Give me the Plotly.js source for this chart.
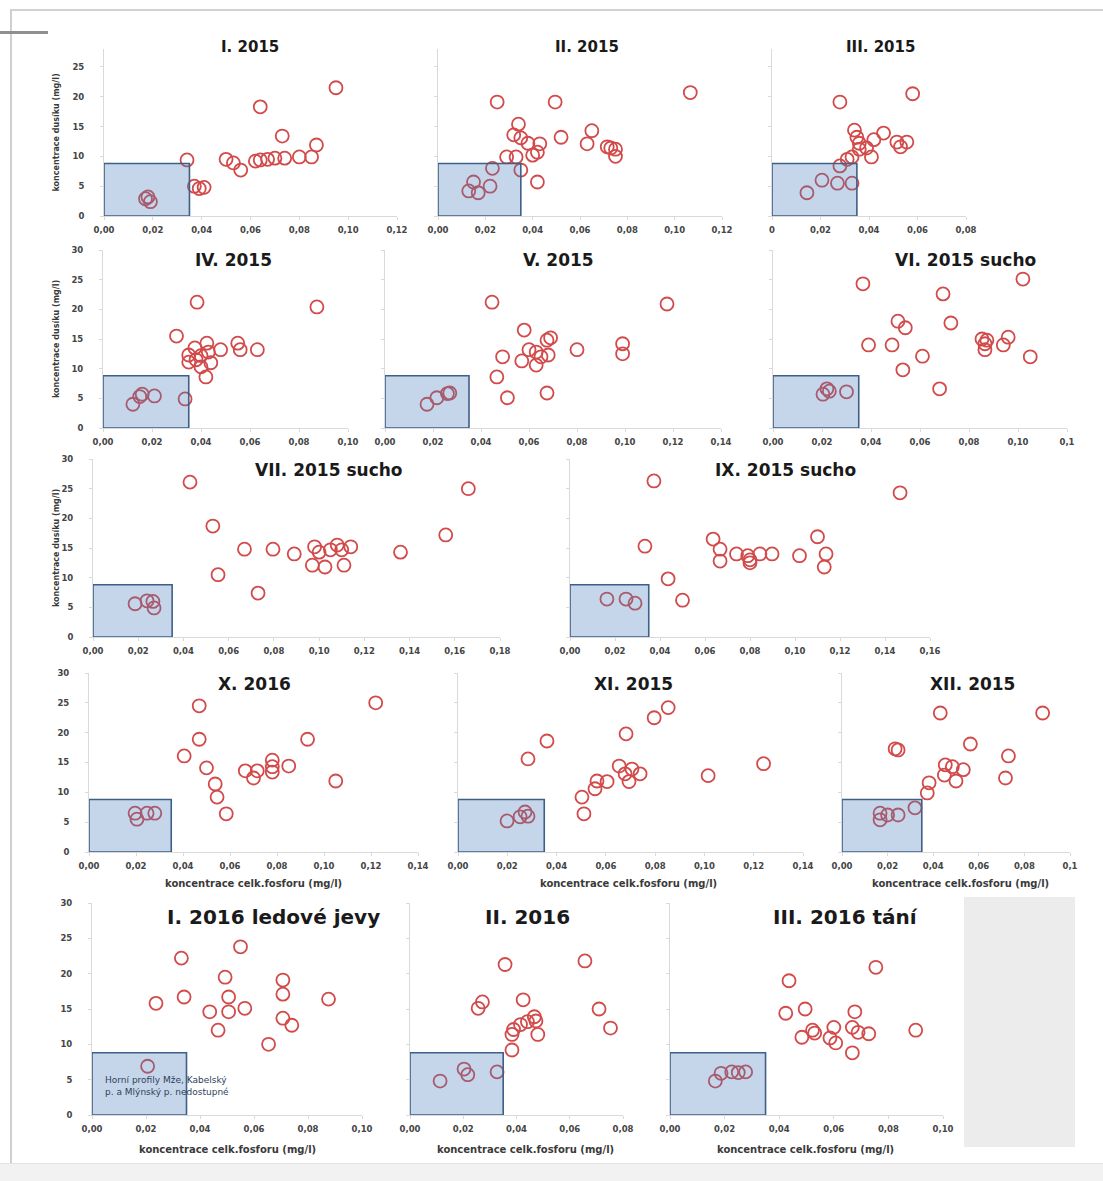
<!DOCTYPE html>
<html><head><meta charset="utf-8">
<script src="https://cdn.plot.ly/plotly-3.0.1.min.js"></script>
<style>
html,body{margin:0;padding:0;background:#fff;width:1103px;height:1181px;overflow:hidden;position:relative;}
#frameTop{position:absolute;left:10px;top:9px;width:1093px;height:2px;background:#d2d2d2;}
#frameLeft{position:absolute;left:10px;top:9px;width:2px;height:1155px;background:#cfcfcf;}
#tab{position:absolute;left:0;top:31px;width:48px;height:3px;background:#8f8f8f;}
#bottom{position:absolute;left:0;top:1163px;width:1103px;height:18px;background:#f2f2f2;border-top:1px solid #e2e2e2;}
#chart{position:absolute;left:0;top:30px;width:1103px;height:1130px;}
</style></head>
<body>
<div id="frameTop"></div><div id="frameLeft"></div><div id="tab"></div><div id="bottom"></div>
<div id="chart"></div>
<script>
// ---------------- data (x: koncentrace celk. fosforu mg/l, y: koncentrace mg/l) ----------------
const titles = ["I. 2015","II. 2015","III. 2015","IV. 2015","V. 2015","VI. 2015 sucho",
  "VII. 2015 sucho","IX. 2015 sucho","X. 2016","XI. 2015","XII. 2015",
  "I. 2016 ledové jevy","II. 2016","III. 2016 tání"];

const x_I15 = [0.017,0.019,0.018,0.037,0.039,0.041,0.034,0.050,0.053,0.056,0.062,0.064,0.067,0.070,0.074,0.080,0.085,0.087,0.073,0.064,0.095];
const y_I15 = [2.9,2.4,3.2,5.0,4.6,4.8,9.4,9.5,8.9,7.7,9.2,9.4,9.5,9.7,9.7,9.9,9.9,11.9,13.4,18.3,21.5];

const x_II15 = [0.025,0.0495,0.1066,0.034,0.032,0.035,0.038,0.043,0.052,0.065,0.063,0.0715,0.073,0.075,0.075,0.029,0.033,0.040,0.042,0.023,0.035,0.042,0.015,0.013,0.017,0.022];
const y_II15 = [19.1,19.1,20.7,15.4,13.6,13.1,12.2,12.1,13.2,14.3,12.1,11.6,11.4,11.2,10.0,9.9,9.9,10.2,10.7,8.0,7.7,5.7,5.7,4.2,3.9,5.0];

const x_III15 = [0.028,0.058,0.034,0.035,0.046,0.0515,0.0556,0.053,0.036,0.039,0.036,0.041,0.033,0.031,0.028,0.0206,0.027,0.033,0.0144,0.042];
const y_III15 = [19.1,20.5,14.4,13.2,13.9,12.4,12.4,11.6,12.2,11.4,11.2,9.9,9.9,9.5,8.4,6.0,5.5,5.5,3.9,12.8];

const x_IV15 = [0.0384,0.0873,0.030,0.0424,0.055,0.056,0.063,0.048,0.043,0.0375,0.035,0.035,0.038,0.040,0.044,0.042,0.040,0.016,0.021,0.0122,0.0335,0.015];
const y_IV15 = [21.2,20.4,15.5,14.3,14.3,13.2,13.2,13.2,12.8,13.5,12.3,11.1,11.5,10.3,11.0,8.6,12.2,5.7,5.4,4.0,4.9,5.3];

const x_V15 = [0.0446,0.1175,0.058,0.0675,0.069,0.060,0.063,0.068,0.065,0.080,0.099,0.099,0.049,0.057,0.063,0.0466,0.051,0.0675,0.027,0.0216,0.0175,0.026];
const y_V15 = [21.2,20.9,16.5,14.8,15.2,13.2,12.8,12.3,12.0,13.2,14.2,12.5,12.0,11.3,10.6,8.6,5.1,5.9,5.9,5.1,4.0,5.8];

const x_VI15 = [0.0367,0.102,0.0694,0.051,0.054,0.0726,0.039,0.0486,0.061,0.053,0.105,0.0853,0.0873,0.0865,0.0865,0.096,0.094,0.068,0.022,0.0204,0.030,0.023];
const y_VI15 = [24.3,25.1,22.6,18.0,16.9,17.7,14.0,14.0,12.1,9.8,12.0,15.0,14.8,13.2,14.2,15.3,14.0,6.6,6.6,5.7,6.1,6.2];

const x_VII15 = [0.0429,0.166,0.053,0.156,0.067,0.0796,0.089,0.098,0.100,0.105,0.108,0.110,0.114,0.136,0.097,0.1026,0.111,0.0553,0.073,0.0186,0.0239,0.0265,0.027];
const y_VII15 = [26.1,25.0,18.7,17.2,14.8,14.8,14.0,15.2,14.3,14.7,15.5,14.7,15.2,14.3,12.1,11.8,12.1,10.5,7.4,5.6,6.1,6.0,4.9];

const x_IX15 = [0.0373,0.1467,0.0333,0.0636,0.0667,0.0667,0.074,0.079,0.080,0.0844,0.0898,0.102,0.110,0.1138,0.113,0.0436,0.050,0.0164,0.0249,0.0289,0.080];
const y_IX15 = [26.3,24.3,15.3,16.5,14.8,12.8,14.0,13.7,12.5,14.0,14.0,13.7,16.9,14.0,11.8,9.8,6.2,6.4,6.4,5.7,13.0];

const x_X16 = [0.122,0.0469,0.0469,0.093,0.0405,0.050,0.085,0.078,0.078,0.078,0.0665,0.0716,0.070,0.105,0.0537,0.0545,0.0584,0.0196,0.0247,0.028,0.0204];
const y_X16 = [25.0,24.5,18.9,18.9,16.1,14.1,14.4,15.4,14.3,13.4,13.6,13.6,12.4,11.9,11.4,9.2,6.4,6.5,6.5,6.5,5.5];

const x_XI15 = [0.0853,0.0796,0.0682,0.0361,0.0284,0.124,0.0654,0.0706,0.0739,0.0678,0.1015,0.0694,0.0564,0.0605,0.0556,0.0503,0.0511,0.0199,0.0252,0.0284,0.0272];
const y_XI15 = [24.2,22.5,19.8,18.6,15.6,14.8,14.4,13.9,13.1,13.1,12.8,11.8,11.9,11.8,10.6,9.2,6.4,5.2,5.9,6.0,6.7];

const x_XII15 = [0.0431,0.088,0.0246,0.0233,0.0563,0.073,0.0717,0.0453,0.0484,0.0532,0.0449,0.050,0.0382,0.0374,0.032,0.0246,0.0167,0.0167,0.020];
const y_XII15 = [23.3,23.3,17.1,17.3,18.1,16.1,12.4,14.6,14.3,13.8,12.9,11.9,11.6,9.9,7.4,6.2,6.5,5.4,6.2];

const x_I16 = [0.055,0.0331,0.0493,0.0707,0.0707,0.0237,0.0341,0.0506,0.0436,0.0506,0.0566,0.0876,0.0467,0.0707,0.074,0.0654,0.0206];
const y_I16 = [23.8,22.2,19.5,19.1,17.1,15.8,16.7,16.7,14.6,14.6,15.1,16.4,12.0,13.7,12.7,10.0,6.9];

const x_II16 = [0.0657,0.0357,0.0272,0.0256,0.0425,0.071,0.0753,0.0467,0.0441,0.0415,0.0473,0.0383,0.0389,0.048,0.0383,0.0203,0.0217,0.0327,0.0113];
const y_II16 = [21.8,21.3,16.0,15.1,16.3,15.0,12.3,13.9,13.2,12.8,13.3,11.4,12.1,11.4,9.2,6.5,5.7,6.1,4.8];

const x_III16 = [0.0754,0.0436,0.090,0.0424,0.0495,0.0677,0.0668,0.0689,0.0728,0.0522,0.053,0.0483,0.060,0.0586,0.0607,0.0668,0.0166,0.0187,0.0226,0.0277,0.025];
const y_III16 = [20.9,19.0,12.0,14.4,15.0,14.6,12.4,11.7,11.5,12.0,11.6,11.0,12.4,10.9,10.2,8.8,4.8,5.9,6.1,6.1,6.0];

// reference (background) area: upper profiles
const refBoxX = 0.035;
const refBoxY = 8.8;

// tick labels
const xt012 = ["0,00","0,02","0,04","0,06","0,08","0,10","0,12"];
const xt008a = ["0","0,02","0,04","0,06","0,08"];
const xt010 = ["0,00","0,02","0,04","0,06","0,08","0,10"];
const xt014 = ["0,00","0,02","0,04","0,06","0,08","0,10","0,12","0,14"];
const xt012b = ["0,00","0,02","0,04","0,06","0,08","0,10","0,1"];
const xt018 = ["0,00","0,02","0,04","0,06","0,08","0,10","0,12","0,14","0,16","0,18"];
const xt016 = ["0,00","0,02","0,04","0,06","0,08","0,10","0,12","0,14","0,16"];
const xt010b = ["0,00","0,02","0,04","0,06","0,08","0,1"];
const xt008 = ["0,00","0,02","0,04","0,06","0,08"];
const yt25 = ["0","5","10","15","20","25"];
const yt30 = ["0","5","10","15","20","25","30"];

const xAxisTitle = "koncentrace celk.fosforu (mg/l)";
const yAxisTitle = "koncentrace dusíku (mg/l)";
const boxNote = "Horní profily Mže, Kabelský<br>p. a Mlýnský p. nedostupné";

const XS = [x_I15,x_II15,x_III15,x_IV15,x_V15,x_VI15,x_VII15,x_IX15,x_X16,x_XI15,x_XII15,x_I16,x_II16,x_III16];
const YS = [y_I15,y_II15,y_III15,y_IV15,y_V15,y_VI15,y_VII15,y_IX15,y_X16,y_XI15,y_XII15,y_I16,y_II16,y_III16];
const XT = [xt012,xt012,xt008a,xt010,xt014,xt012b,xt018,xt016,xt014,xt014,xt010b,xt010,xt008,xt010];

// ---------------- layout geometry (page pixels) ----------------
const TOP = 30, H = 1130, W = 1103;
const fx = p => p / W;
const fy = p => 1 - (p - TOP) / H;

const G = [
 {l:104,r:397,t:49,b:216,yr:28,yt:yt25,tx:250,ty:47,fs:15,yl:true},
 {l:438,r:722,t:49,b:216,yr:28,yt:yt25,tx:587,ty:47,fs:15},
 {l:772,r:966,t:49,b:216,yr:28,yt:yt25,tx:880,ty:47,fs:15},
 {l:103,r:348,t:250,b:428,yr:30,yt:yt30,tx:233,ty:260,fs:17,yl:true},
 {l:385,r:721,t:250,b:428,yr:30,yt:yt30,tx:558,ty:260,fs:17},
 {l:773,r:1067,t:250,b:428,yr:30,yt:yt30,tx:965,ty:260,fs:17},
 {l:93,r:500,t:459,b:637,yr:30,yt:yt30,tx:329,ty:470,fs:17,yl:true},
 {l:570,r:930,t:459,b:637,yr:30,yt:yt30,tx:785,ty:470,fs:17},
 {l:89,r:418,t:673,b:852,yr:30,yt:yt30,tx:254,ty:684,fs:17,yl:true,xt:253,xty:883},
 {l:458,r:803,t:673,b:852,yr:30,yt:yt30,tx:633,ty:684,fs:17,xt:628,xty:883},
 {l:842,r:1070,t:673,b:852,yr:30,yt:yt30,tx:972,ty:684,fs:17,xt:960,xty:883},
 {l:92,r:362,t:903,b:1115,yr:30,yt:yt30,tx:273,ty:917,fs:20,yl:true,xt:227,xty:1149},
 {l:410,r:623,t:903,b:1115,yr:30,yt:yt30,tx:527,ty:917,fs:20,xt:525,xty:1149},
 {l:670,r:943,t:903,b:1115,yr:30,yt:yt30,tx:845,ty:917,fs:20,xt:805,xty:1149}
];

const tickFont = {family:"DejaVu Sans", size:8.5, color:"#454545", weight:"bold"};
const traces = [], shapes = [], annotations = [];
const layout = {
  width: W, height: H, margin:{l:0,r:0,t:0,b:0},
  paper_bgcolor:"rgba(0,0,0,0)", plot_bgcolor:"rgba(0,0,0,0)",
  showlegend:false, shapes, annotations
};

// empty grey panel
shapes.push({type:"rect", xref:"paper", yref:"paper", x0:fx(964), x1:fx(1075), y0:fy(1147), y1:fy(897),
  fillcolor:"#ececec", line:{width:0}, layer:"below"});

G.forEach((g, i) => {
  const n = i === 0 ? "" : String(i + 1);
  const xmax = XT[i].length - 1;
  const xr = xmax * 0.02;
  const tv = XT[i].map((_, k) => k * 0.02);
  layout["xaxis" + n] = {
    domain:[fx(g.l), fx(g.r)], range:[0, xr], anchor:"y" + n,
    tickvals: tv, ticktext: XT[i], tickfont: tickFont,
    showgrid:false, zeroline:false, showline:true, linecolor:"#d9d9d9", linewidth:1,
    ticks:"outside", ticklen:3, tickcolor:"#d9d9d9", ticklabelstandoff: 3, fixedrange:true
  };
  layout["yaxis" + n] = {
    domain:[fy(g.b), fy(g.t)], range:[0, g.yr], anchor:"x" + n,
    tickvals: g.yt.map(Number), ticktext: g.yt, tickfont: tickFont, showticklabels: !!g.yl,
    showgrid:false, zeroline:false, showline:true, linecolor:"#d9d9d9", linewidth:1,
    ticks:"outside", ticklen:3, tickcolor:"#d9d9d9", ticklabelstandoff: 14, fixedrange:true
  };
  traces.push({
    type:"scatter", mode:"markers", x: XS[i], y: YS[i], xaxis:"x" + n, yaxis:"y" + n,
    marker:{symbol:"circle-open", size:13, color:"#d24a4a", line:{width:1.8}},
    hoverinfo:"x+y"
  });
  shapes.push({type:"rect", xref:"x" + n, yref:"y" + n, x0:0, x1:refBoxX, y0:0, y1:refBoxY,
    fillcolor:"rgba(79,129,189,0.32)", line:{color:"#3e5f88", width:1.6}, layer:"above"});
  annotations.push({text:"<b>" + titles[i] + "</b>", xref:"paper", yref:"paper", x:fx(g.tx), y:fy(g.ty),
    xanchor:"center", yanchor:"middle", showarrow:false,
    font:{family:"DejaVu Sans", size:g.fs, color:"#1a1a1a"}});
  if (g.xt) {
    annotations.push({text:"<b>" + xAxisTitle + "</b>", xref:"paper", yref:"paper", x:fx(g.xt), y:fy(g.xty),
      xanchor:"center", yanchor:"middle", showarrow:false,
      font:{family:"DejaVu Sans", size:10, color:"#3a3a3a"}});
  }
  if (g.yl && i < 7) {
    annotations.push({text:"<b>" + yAxisTitle + "</b>", xref:"paper", yref:"paper", x:fx(56), y:fy((g.t + g.b) / 2),
      xanchor:"center", yanchor:"middle", textangle:-90, showarrow:false,
      font:{family:"DejaVu Sans", size:8, color:"#3a3a3a"}});
  }
});

// note inside the reference box of I. 2016
annotations.push({text:boxNote, xref:"paper", yref:"paper", x:fx(103), y:fy(1086),
  xanchor:"left", yanchor:"middle", align:"left", showarrow:false,
  font:{family:"DejaVu Sans", size:9, color:"#2d3f5c"}});

Plotly.newPlot("chart", traces, layout, {displayModeBar:false, staticPlot:true});
</script>
</body></html>
